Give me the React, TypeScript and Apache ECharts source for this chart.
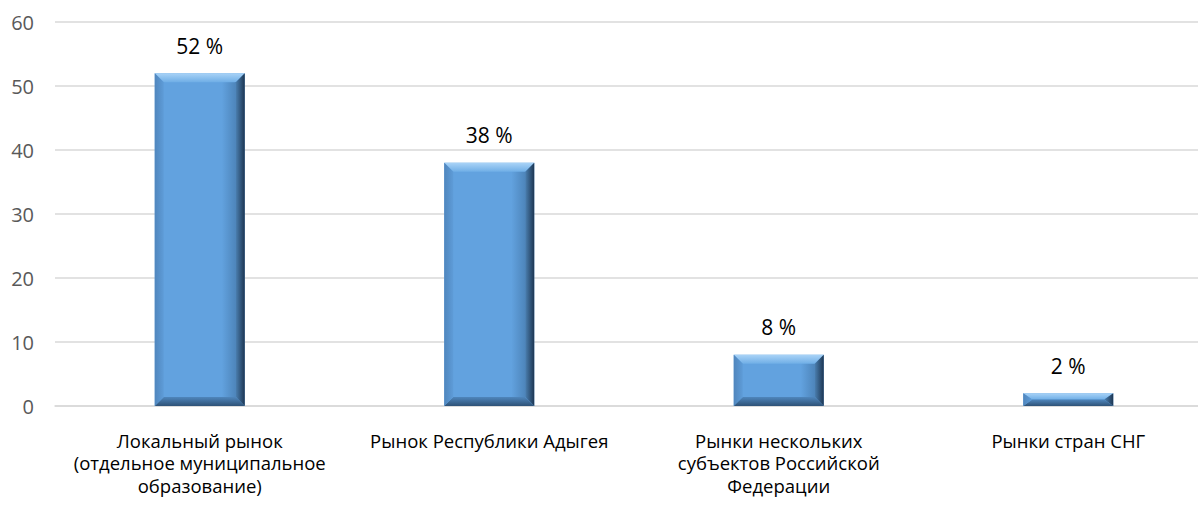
import React, { useEffect, useRef } from "react";
import * as echarts from "echarts";

const categories = [
  "Локальный рынок\n(отдельное муниципальное\nобразование)",
  "Рынок Республики Адыгея",
  "Рынки нескольких\nсубъектов Российской\nФедерации",
  "Рынки стран СНГ",
];
const values = [52, 38, 8, 2];
const yTicks = { min: 0, max: 60, interval: 10 };

const FONT = "'Open Sans', 'Noto Sans', sans-serif";
const BAR_W = 90;
const BEVEL = 9;

export default function App() {
  const ref = useRef<HTMLDivElement>(null);
  useEffect(() => {
    const chart = echarts.init(ref.current!, undefined, { renderer: "svg" });
    chart.setOption({
      animation: false,
      grid: { left: 55, right: 0, top: 22, bottom: 101, containLabel: false },
      xAxis: {
        type: "category",
        data: categories,
        axisLine: { show: true, lineStyle: { color: "#D9D9D9", width: 1.5 } },
        axisTick: { show: false },
        axisLabel: {
          interval: 0,
          margin: 23,
          fontFamily: FONT,
          fontSize: 18.5,
          lineHeight: 22.5,
          color: "#000",
        },
      },
      yAxis: {
        type: "value",
        min: yTicks.min,
        max: yTicks.max,
        interval: yTicks.interval,
        axisLine: { show: false },
        axisTick: { show: false },
        splitLine: { lineStyle: { color: "#D9D9D9", width: 1.5 } },
        axisLabel: { margin: 21, fontFamily: FONT, fontSize: 20, color: "#595959" },
      },
      series: [
        {
          type: "bar",
          data: values,
          barWidth: BAR_W,
          itemStyle: { color: "#62A2DF" },
          label: {
            show: true,
            position: "top",
            distance: 17,
            formatter: "{c} %",
            fontFamily: FONT,
            fontSize: 21,
            color: "#000",
          },
          z: 2,
        },
        {
          type: "custom",
          data: values.map((v, i) => [i, v]),
          z: 3,
          silent: true,
          renderItem: (params: any, api: any) => {
            const top = api.coord([api.value(0), api.value(1)]);
            const base = api.coord([api.value(0), 0]);
            const x0 = top[0] - BAR_W / 2;
            const x1 = top[0] + BAR_W / 2;
            const y0 = top[1];
            const y1 = base[1];
            const h = y1 - y0;
            const b = Math.min(BEVEL, h / 2);
            const bs = Math.min(BEVEL, BAR_W / 2);
            return {
              type: "group",
              children: [
                {
                  type: "polygon",
                  shape: { points: [[x0, y0], [x1, y0], [x1 - bs, y0 + b], [x0 + bs, y0 + b]] },
                  style: {
                    fill: new echarts.graphic.LinearGradient(0, 0, 0, 1, [
                      { offset: 0, color: "#A9D3F7" },
                      { offset: 1, color: "#6FAEE6" },
                    ]),
                  },
                },
                {
                  type: "polygon",
                  shape: { points: [[x1, y0], [x1, y1], [x1 - bs, y1 - b], [x1 - bs, y0 + b]] },
                  style: {
                    fill: new echarts.graphic.LinearGradient(0, 0, 1, 0, [
                      { offset: 0, color: "#4B7FB0" },
                      { offset: 1, color: "#1D3652" },
                    ]),
                  },
                },
                {
                  type: "polygon",
                  shape: { points: [[x0, y1], [x1, y1], [x1 - bs, y1 - b], [x0 + bs, y1 - b]] },
                  style: {
                    fill: new echarts.graphic.LinearGradient(0, 0, 0, 1, [
                      { offset: 0, color: "#4F86BC" },
                      { offset: 1, color: "#2E5277" },
                    ]),
                  },
                },
                {
                  type: "polygon",
                  shape: { points: [[x0, y0], [x0 + bs, y0 + b], [x0 + bs, y1 - b], [x0, y1]] },
                  style: {
                    fill: new echarts.graphic.LinearGradient(0, 0, 1, 0, [
                      { offset: 0, color: "#5086BD" },
                      { offset: 1, color: "#5E9CD8" },
                    ]),
                  },
                },
                {
                  type: "rect",
                  shape: { x: x1 - bs - 14, y: y0 + b, width: 14, height: Math.max(0, h - 2 * b) },
                  style: {
                    fill: new echarts.graphic.LinearGradient(0, 0, 1, 0, [
                      { offset: 0, color: "rgba(40,80,120,0)" },
                      { offset: 1, color: "rgba(40,80,120,0.35)" },
                    ]),
                  },
                },
              ],
            };
          },
        },
      ],
    });
    return () => chart.dispose();
  }, []);
  return (
    <div
      ref={ref}
      style={{ position: "fixed", left: 0, top: 0, width: 1213, height: 507, background: "#fff" }}
    />
  );
}
